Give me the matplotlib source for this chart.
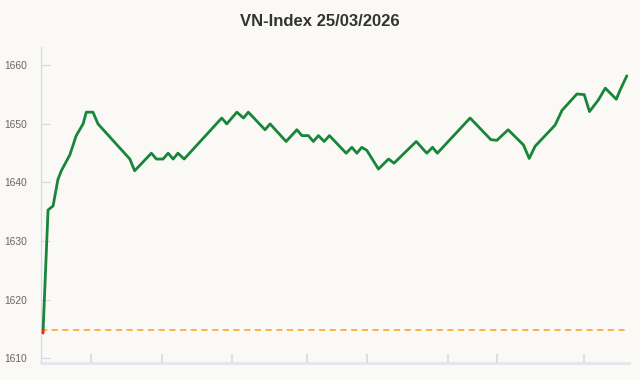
import matplotlib
matplotlib.use("Agg")
import matplotlib.pyplot as plt
from matplotlib.patches import Rectangle

plt.rcParams["font.family"] = ["Liberation Sans", "DejaVu Sans"]

# ---- data (session minutes, index value) ----
title = "VN-Index 25/03/2026"
minutes = [0, 2.2, 4.4, 6.5, 8.0, 11.7, 14.5, 17.5, 18.9, 21.8, 24.0, 37.9, 40.0,
           47.3, 49.5, 52.4, 54.6, 56.8, 58.9, 61.6, 78.0, 80.2, 84.6, 87.5, 89.6,
           96.9, 99.1, 106.1, 110.8, 113.0, 115.8, 118.0, 120.2, 122.7, 125.0,
           132.3, 134.8, 137.0, 139.1, 141.3, 146.4, 150.8, 153.2, 162.9, 167.5,
           170.0, 172.1, 186.4, 195.5, 198.1, 203.0, 209.7, 212.2, 214.8, 223.5,
           226.5, 233.0, 236.2, 238.5, 242.4, 245.4, 250.2, 251.9, 254.8]
values = [1614.3, 1635.3, 1636.0, 1640.5, 1642.0, 1644.7, 1648.0, 1650.0, 1652.0,
          1652.0, 1650.0, 1644.0, 1642.0, 1645.0, 1644.0, 1644.0, 1645.0, 1644.0,
          1645.0, 1644.0, 1651.0, 1650.0, 1652.0, 1651.0, 1652.0, 1649.0, 1650.0,
          1647.0, 1649.0, 1648.0, 1648.0, 1647.0, 1648.0, 1647.0, 1648.0, 1645.0,
          1646.0, 1645.0, 1646.0, 1645.5, 1642.3, 1644.0, 1643.3, 1647.0, 1645.0,
          1646.0, 1645.0, 1651.0, 1647.3, 1647.2, 1649.0, 1646.4, 1644.1, 1646.2,
          1649.8, 1652.3, 1655.1, 1655.0, 1652.1, 1654.1, 1656.1, 1654.2, 1655.8,
          1658.2]
reference = 1614.8
x_ticks = [21.1, 52.0, 82.4, 115.1, 141.3, 176.7, 198.1, 235.9]
y_ticks = [1610, 1620, 1630, 1640, 1650, 1660]

bg = "#faf9f5"
axis_col = "#d3dbea"

fig = plt.figure(figsize=(6.4, 3.8), dpi=100, facecolor=bg)
ax = fig.add_axes([0.0636, 0.044, 0.9194, 0.832])
ax.set_facecolor(bg)

xmin, xmax = -1.0, 255.8
ymin, ymax = 1609.15, 1663.1
ax.set_xlim(xmin, xmax)
ax.set_ylim(ymin, ymax)

ax.axhline(reference, color="#f7a21b", lw=1.1, ls=(0, (4, 3)), zorder=2)

up, = ax.plot(minutes, values, color="#17853a", lw=2.0, solid_joinstyle="round",
              solid_capstyle="round", zorder=3)
up.set_clip_path(Rectangle((xmin, reference), xmax - xmin, ymax - reference,
                           transform=ax.transData))
down, = ax.plot(minutes, values, color="#e8202a", lw=2.0, solid_joinstyle="round",
                solid_capstyle="round", zorder=3)
down.set_clip_path(Rectangle((xmin, ymin), xmax - xmin, reference - ymin,
                             transform=ax.transData))

for s in ["top", "right"]:
    ax.spines[s].set_visible(False)
ax.spines["left"].set_color(axis_col)
ax.spines["left"].set_linewidth(0.9)
ax.spines["bottom"].set_color("#dfe4ee")
ax.spines["bottom"].set_linewidth(1.8)

ax.set_yticks(y_ticks)
ax.set_yticklabels([str(v) for v in y_ticks])
ax.set_xticks(x_ticks)
ax.set_xticklabels([])
ax.tick_params(axis="y", direction="in", length=6.5, width=0.9, color=axis_col,
               labelsize=7.4, labelcolor="#666666", pad=10)
ax.tick_params(axis="x", direction="in", length=6.5, width=1.2, color=axis_col)

fig.text(0.5, 0.943, title, ha="center", va="center", fontsize=12,
         fontweight="bold", color="#333333")

fig.savefig("out.png", dpi=100, facecolor=bg)
